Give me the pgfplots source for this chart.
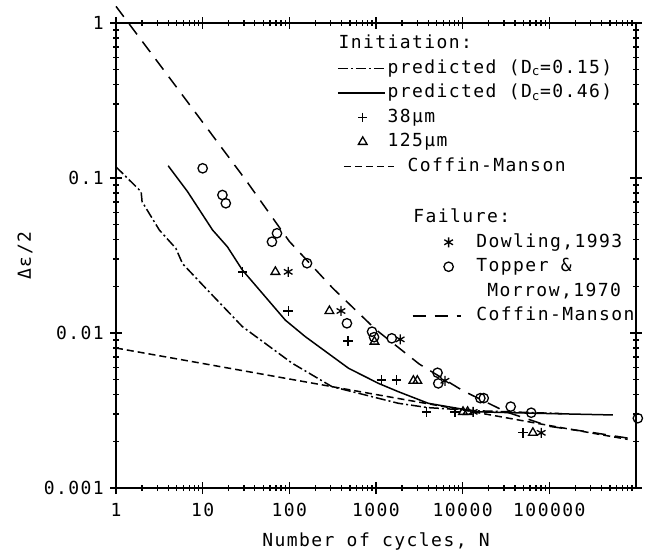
\documentclass[border=0pt]{standalone}
\usepackage{fontspec}
\setmainfont{DejaVu Sans Mono}[LetterSpace=8]
\usepackage{pgfplots}
\pgfplotsset{compat=1.18}
\pgfplotsset{
  legA line/.style={legend image code/.code={\draw[##1] (0bp,0bp) -- (47bp,0bp);}},
  legA shifted line/.style={legend image code/.code={\draw[##1,overlay] (6bp,0bp) -- (56bp,0bp);}},
  legA mark/.style={legend image code/.code={\draw[##1] plot coordinates {(25bp,0bp)};}},
  legB line/.style={legend image code/.code={\draw[##1] (0bp,0bp) -- (48bp,0bp);}},
  legB mark/.style={legend image code/.code={\draw[##1] plot coordinates {(36bp,0bp)};}},
}
\tikzset{
  dcA/.style={black, line width=1.5bp, dash pattern=on 10bp off 3bp on 2bp off 3bp},
  dcB/.style={black, line width=1.5bp},
  cmI/.style={black, line width=1.5bp, dash pattern=on 7bp off 4bp},
  cmF/.style={black, line width=1.5bp, dash pattern=on 13bp off 9bp},
}
\begin{document}
\fontsize{18bp}{21bp}\selectfont
\begin{tikzpicture}
\path[use as bounding box] (-116bp,-68bp) rectangle (540bp,488bp);
\begin{axis}[
  xmode=log, ymode=log, scale only axis, width=520bp, height=465bp,
  xmin=1, xmax=1e6, ymin=0.001, ymax=1,
  clip=false,
  axis line style={line width=1.6bp},
  tick style={line width=1.3bp, black},
  tick align=center,
  major tick length=12bp, minor tick length=6bp,
  xtick={1,10,100,1000,10000,100000},
  xticklabels={1,10,100,1000,10000,100000},
  minor xtick={2,3,4,5,6,7,8,9,20,30,40,50,60,70,80,90,200,300,400,500,600,700,800,900,2000,3000,4000,5000,6000,7000,8000,9000,20000,30000,40000,50000,60000,70000,80000,90000,200000,300000,400000,500000,600000,700000,800000,900000},
  ytick={0.001,0.01,0.1,1},
  yticklabels={0.001,0.01,0.1,1},
  minor ytick={0.002,0.003,0.004,0.005,0.006,0.007,0.008,0.009,0.02,0.03,0.04,0.05,0.06,0.07,0.08,0.09,0.2,0.3,0.4,0.5,0.6,0.7,0.8,0.9},
  xticklabel style={yshift=-3bp},
  xlabel={Number of cycles, N},
  ylabel={Δε/2},
  xlabel style={at={(axis description cs:0.5,0)}, anchor=center, yshift=-53bp},
  ylabel style={at={(axis description cs:-0.175,0.5)}, anchor=center},
  legend style={
    at={(axis description cs:0.425,0.974)}, anchor=north west,
    draw=none, fill=none, inner sep=0pt, outer sep=0pt,
    row sep=7bp,
    nodes={inner sep=0pt, text height=13.5bp, text depth=4bp},
    /tikz/every odd column/.append style={column sep=2bp},
  },
  legend cell align=left,
]
\addlegendimage{empty legend}
\addlegendentry{\hspace*{-49bp}Initiation:}
\addlegendimage{dcA, legA line}
\addlegendentry{predicted (D\textsubscript{c}=0.15)}
\addlegendimage{dcB, legA line}
\addlegendentry{predicted (D\textsubscript{c}=0.46)}
\addlegendimage{black, only marks, mark=+, mark size=4.7bp, mark options={line width=1.3bp}, legA mark}
\addlegendentry{38μm}
\addlegendimage{black, only marks, mark=triangle, mark size=5bp, mark options={line width=1.3bp}, legA mark}
\addlegendentry{125μm}
\addlegendimage{cmI, legA shifted line}
\addlegendentry{\hspace*{20bp}Coffin-Manson}

% Coffin-Manson (failure)
\addplot[cmF, forget plot] coordinates {
 (1,1.28) (3.16,0.543) (10,0.229) (31.6,0.0966) (100,0.039) (316,0.0195)
 (1000,0.0105) (3162,0.0063) (10000,0.00425) (31623,0.0031) (100000,0.0025)
 (316228,0.00228) (800000,0.0021)};
% Coffin-Manson (initiation)
\addplot[cmI, forget plot] coordinates {
 (1,0.008) (10,0.00636) (100,0.00505) (1000,0.00401) (10000,0.00319)
 (100000,0.00253) (800000,0.00206)};
% predicted Dc=0.15
\addplot[dcA, forget plot] coordinates {
 (1,0.118) (1.95,0.0816) (2.0,0.0703) (3.16,0.0462) (4.9,0.0352) (5.86,0.028)
 (10,0.0204) (28.7,0.011) (108,0.00638) (310,0.00451) (1815,0.00352)
 (4000,0.0033) (15000,0.00315) (140000,0.00302)};
% predicted Dc=0.46
\addplot[dcB, forget plot] coordinates {
 (4.0,0.12) (6.7,0.0816) (13,0.0462) (19.3,0.036) (28.7,0.0255) (90,0.0121)
 (153,0.00947) (483,0.00592) (1070,0.00473) (1815,0.00418) (4010,0.00352)
 (15070,0.0031) (61700,0.00304) (540000,0.00296)};
% 38 um
\addplot[black, only marks, mark=+, mark size=4.7bp, mark options={line width=1.3bp}, forget plot] coordinates {
 (29,0.0248) (97,0.01387) (474,0.0089) (1150,0.00498) (1730,0.00498)
 (3840,0.0031) (8130,0.0031) (49500,0.00227)};
% 125 um
\addplot[black, only marks, mark=triangle, mark size=5bp, mark options={line width=1.3bp}, forget plot] coordinates {
 (69,0.0248) (290,0.01387) (960,0.0088) (2700,0.00492) (3000,0.00492)
 (10100,0.0031) (11400,0.0031) (64600,0.00227)};
% Dowling 1993
\addplot[black, only marks, mark=asterisk, mark size=5bp, mark options={line width=1.3bp}, forget plot] coordinates {
 (97,0.0248) (394,0.01387) (1900,0.0091) (6240,0.00492) (13200,0.0031) (80500,0.00227)};
% Topper & Morrow 1970
\addplot[black, only marks, mark=o, mark size=4.7bp, mark options={line width=1.3bp}, forget plot] coordinates {
 (10,0.1155) (16.9,0.0777) (18.5,0.0687) (72,0.044) (63,0.0388) (160,0.0282)
 (462,0.01155) (900,0.0102) (950,0.0094) (1520,0.00924) (5130,0.00554)
 (5230,0.00473) (16000,0.0038) (17500,0.0038) (35800,0.00335) (61800,0.00306)
 (1050000,0.00282)};
\end{axis}

\begin{axis}[
  xmode=log, ymode=log, scale only axis, width=520bp, height=465bp,
  xmin=1, xmax=1e6, ymin=0.001, ymax=1,
  hide axis,
  legend style={
    at={(axis description cs:0.569,0.6)}, anchor=north west,
    draw=none, fill=none, inner sep=0pt, outer sep=0pt,
    row sep=7bp,
    nodes={inner sep=0pt, text height=13.5bp, text depth=4bp},
    /tikz/every odd column/.append style={column sep=15bp},
  },
  legend cell align=left,
]
\addlegendimage{empty legend}
\addlegendentry{\hspace*{-63bp}Failure:}
\addlegendimage{black, only marks, mark=asterisk, mark size=5bp, mark options={line width=1.3bp}, legB mark}
\addlegendentry{Dowling,1993}
\addlegendimage{black, only marks, mark=o, mark size=4.7bp, mark options={line width=1.3bp}, legB mark}
\addlegendentry{Topper \&}
\addlegendimage{empty legend}
\addlegendentry{\hspace*{11bp}Morrow,1970}
\addlegendimage{cmF, legB line}
\addlegendentry{Coffin-Manson}
\end{axis}
\end{tikzpicture}
\end{document}
